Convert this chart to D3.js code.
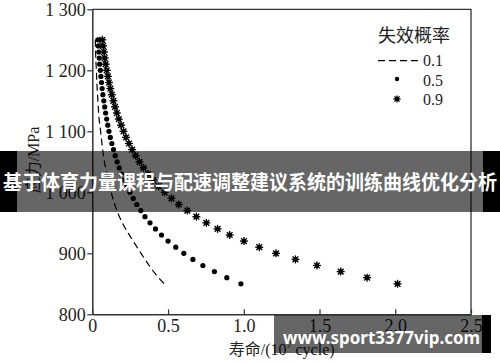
<!DOCTYPE html>
<html><head><meta charset="utf-8">
<script src="https://cdn.jsdelivr.net/npm/d3@7"></script>
<style>
html,body{margin:0;padding:0;background:#fff;}
svg{display:block;}
</style></head>
<body>
<svg id="c" width="500" height="362"></svg>
<script>
// ---- data ----
const xTicks = [0, 0.5, 1.0, 1.5, 2.0, 2.5];
const xTickLabels = ["0", "0.5", "1.0", "1.5", "2.0", "2.5"];
const yTicks = [800, 900, 1000, 1100, 1200, 1300];
const yTickLabels = ["800", "900", "1 000", "1 100", "1 200", "1 300"];

// failure probability 0.1 (dashed line)
const stressP10 = [1250, 1220, 1200, 1175, 1150, 1120, 1100, 1075, 1050, 1030, 1005, 987, 971, 952, 933, 911, 886, 867, 850];
const lifeP10   = [0.020, 0.023, 0.027, 0.031, 0.037, 0.045, 0.055, 0.066, 0.080, 0.097, 0.120, 0.139, 0.161, 0.194, 0.237, 0.293, 0.359, 0.414, 0.475];

// stress levels of the point series
const stressLevels = [850, 860, 870, 880, 890, 900, 910, 920, 930, 940, 950, 960, 970, 980, 990, 1000,
  1010, 1020, 1030, 1040, 1050, 1060, 1070, 1080, 1090, 1100, 1110, 1120, 1130, 1140, 1150, 1160,
  1170, 1180, 1190, 1200, 1210, 1220, 1230, 1240, 1250];
// failure probability 0.5 (dots)
const lifeP50 = [0.981, 0.888, 0.806, 0.730, 0.664, 0.604, 0.551, 0.500, 0.457, 0.417, 0.381, 0.348, 0.320, 0.294, 0.270,
  0.248, 0.228, 0.209, 0.193, 0.178, 0.164, 0.151, 0.140, 0.129, 0.119, 0.110, 0.102, 0.095, 0.088, 0.082,
  0.076, 0.070, 0.065, 0.061, 0.057, 0.053, 0.049, 0.046, 0.043, 0.040, 0.037];
// failure probability 0.9 (stars)
const lifeP90 = [2.015, 1.814, 1.640, 1.483, 1.341, 1.213, 1.102, 1.001, 0.907, 0.827, 0.753, 0.687, 0.627, 0.571, 0.523,
  0.478, 0.438, 0.401, 0.368, 0.338, 0.311, 0.286, 0.263, 0.242, 0.223, 0.206, 0.190, 0.175, 0.162, 0.150,
  0.139, 0.129, 0.119, 0.110, 0.103, 0.095, 0.088, 0.082, 0.077, 0.071, 0.066];

const legendTitle = "失效概率";
const legendLabels = ["0.1", "0.5", "0.9"];
const xTitle = "寿命/(10";
const yTitle = "应力/MPa";
const bannerText = "基于体育力量课程与配速调整建议系统的训练曲线优化分析";
const watermark = "www.sport3377vip.com";

// ---- drawing ----
(function () {
const svg = d3.select("#c");
const W = 500, H = 362;
const pL = 92.3, pR = 471, pT = 9.3, pB = 314.3;
const x = d3.scaleLinear().domain([0, 2.5]).range([pL, pR]);
const y = d3.scaleLinear().domain([800, 1300]).range([pB, pT]);
const axisColor = "#333";
const serif = "'Liberation Serif','Times New Roman',serif";
const cjk = "'Noto Sans CJK SC','Noto Sans',sans-serif";

svg.append("rect").attr("width", W).attr("height", H).attr("fill", "#fff");

// dashed curve
const p10 = stressP10.map((s, i) => [lifeP10[i], s]);
svg.append("path")
  .datum(p10)
  .attr("d", d3.line().x(d => x(d[0])).y(d => y(d[1])).curve(d3.curveMonotoneY))
  .attr("fill", "none").attr("stroke", "#000").attr("stroke-width", 1.2)
  .attr("stroke-dasharray", "7,4");

// dots
const p50 = stressLevels.map((s, i) => [lifeP50[i], s]);
svg.append("g").selectAll("circle").data(p50).join("circle")
  .attr("cx", d => x(d[0])).attr("cy", d => y(d[1])).attr("r", 2.6).attr("fill", "#000");

// stars
function star(g, cx, cy, r) {
  g.append("circle").attr("cx", cx).attr("cy", cy).attr("r", r * 0.6).attr("fill", "#000");
  const a = r * 0.72;
  const segs = [[-r, 0, r, 0], [0, -r, 0, r], [-a, -a, a, a], [-a, a, a, -a]];
  segs.forEach(s => g.append("line")
    .attr("x1", cx + s[0]).attr("y1", cy + s[1]).attr("x2", cx + s[2]).attr("y2", cy + s[3])
    .attr("stroke", "#000").attr("stroke-width", 1.3));
}
const p90 = stressLevels.map((s, i) => [lifeP90[i], s]);
const gStars = svg.append("g");
p90.forEach(d => star(gStars, x(d[0]), y(d[1]), 4));

// axes
const xAxis = d3.axisBottom(x).tickValues(xTicks).tickFormat((d, i) => xTickLabels[i])
  .tickSizeInner(-5).tickSizeOuter(0).tickPadding(5);
const gx = svg.append("g").attr("transform", `translate(0,${pB})`).call(xAxis);
const yAxis = d3.axisLeft(y).tickValues(yTicks).tickFormat((d, i) => yTickLabels[i])
  .tickSizeInner(5).tickSizeOuter(0).tickPadding(1.5);
const gy = svg.append("g").attr("transform", `translate(${pL},0)`).call(yAxis);
[gx, gy].forEach(g => {
  g.select(".domain").attr("stroke", axisColor).attr("stroke-width", 1.5);
  g.selectAll(".tick line").attr("stroke", axisColor).attr("stroke-width", 1.2);
  g.selectAll(".tick text").attr("fill", "#222").style("font-family", serif).style("font-size", "18px");
});
// frame top & right
svg.append("path")
  .attr("d", `M${pL},${pT}H${pR}V${pB}`)
  .attr("fill", "none").attr("stroke", axisColor).attr("stroke-width", 1.3);

// axis titles
const xt = svg.append("text").attr("x", (pL + pR) / 2).attr("y", 355)
  .attr("text-anchor", "middle").attr("fill", "#222")
  .style("font-family", serif + ",'Noto Sans CJK SC'").style("font-size", "16px");
xt.append("tspan").text(xTitle);
xt.append("tspan").attr("dy", -7).style("font-size", "10px").text("7");
xt.append("tspan").attr("dy", 7).text(" cycle)");

svg.append("text").attr("transform", `translate(38.5,160) rotate(-90)`)
  .attr("text-anchor", "middle").attr("fill", "#222")
  .style("font-family", serif + ",'Noto Sans CJK SC'").style("font-size", "16px")
  .text(yTitle);

// legend
svg.append("text").attr("x", 378).attr("y", 41.5).attr("fill", "#222")
  .style("font-family", cjk).style("font-size", "18px").text(legendTitle);
svg.append("line").attr("x1", 378).attr("x2", 418).attr("y1", 60.7).attr("y2", 60.7)
  .attr("stroke", "#000").attr("stroke-width", 1.2).attr("stroke-dasharray", "7,4");
svg.append("circle").attr("cx", 397).attr("cy", 79).attr("r", 2.2).attr("fill", "#000");
star(svg.append("g"), 397, 99, 3.6);
legendLabels.forEach((t, i) => {
  svg.append("text").attr("x", 423).attr("y", 66 + i * 19.5).attr("fill", "#222")
    .style("font-family", serif).style("font-size", "16px").text(t);
});

// banner overlay
svg.append("rect").attr("x", 0).attr("y", 151).attr("width", 17).attr("height", 61).attr("fill", "#000");
svg.append("rect").attr("x", 483).attr("y", 151).attr("width", 17).attr("height", 61).attr("fill", "#000");
svg.append("rect").attr("x", 17).attr("y", 151).attr("width", 466).attr("height", 61)
  .attr("fill", "#000").attr("fill-opacity", 0.6);
svg.append("text").attr("x", 250).attr("y", 190).attr("text-anchor", "middle")
  .attr("fill", "#fff").style("font-family", cjk).style("font-weight", "bold").style("font-size", "20px")
  .attr("textLength", 494).attr("lengthAdjust", "spacingAndGlyphs")
  .text(bannerText);

// watermark
svg.append("rect").attr("x", 274).attr("y", 315).attr("width", 208).attr("height", 38)
  .attr("fill", "#000").attr("fill-opacity", 0.6);
svg.append("rect").attr("x", 482).attr("y", 315).attr("width", 9).attr("height", 38).attr("fill", "#000");
svg.append("text").attr("x", 283).attr("y", 343.5)
  .attr("fill", "#fff").style("font-family", "'Noto Sans','Open Sans',sans-serif").style("font-weight", "bold").style("font-size", "18px")
  .attr("textLength", 197).attr("lengthAdjust", "spacingAndGlyphs")
  .text(watermark);
})();
</script>
</body></html>
